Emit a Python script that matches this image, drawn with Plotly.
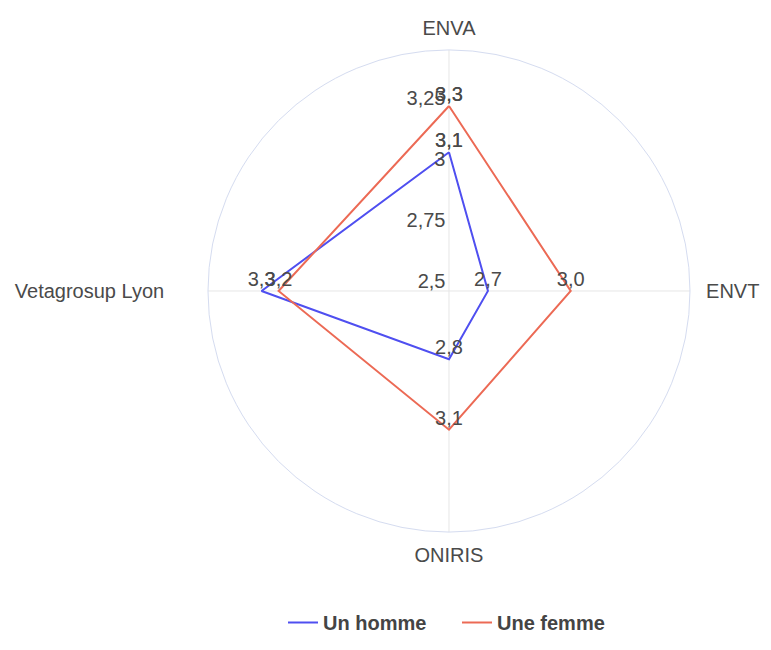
import plotly.graph_objects as go

categories = ["ENVA", "ENVT", "ONIRIS", "Vetagrosup Lyon"]
category_labels = ["ENVA", "\u00a0ENVT", "ONIRIS", "Vetagrosup Lyon\u00a0\u00a0\u00a0\u00a0\u00a0\u00a0"]
homme = [3.07, 2.66, 2.78, 3.27]
femme = [3.26, 3.0, 3.07, 3.2]
radial_ticks = [2.5, 2.75, 3, 3.25]
radial_labels = ["2,5", "2,75", "3", "3,25"]

fig = go.Figure()

for name, values, color in [("Un homme", homme, "#4f4ff0"), ("Une femme", femme, "#ec6a55")]:
    fig.add_trace(go.Scatterpolar(
        r=values + values[:1],
        theta=categories + categories[:1],
        name=name,
        mode="lines+text",
        texttemplate="%{r:.1f}",
        textposition="top center",
        textfont=dict(size=20, color="#4a4a4a"),
        line=dict(color=color, width=2),
    ))

# page body has an 8px margin, so the figure is smaller than the window
fig.update_layout(
    width=755,
    height=634,
    separators=", ",
    font=dict(family="Arial", color="#444"),
    paper_bgcolor="white",
    margin=dict(l=0, r=0, t=0, b=0, autoexpand=False),
    polar=dict(
        domain=dict(x=[0.2649, 0.9033], y=[0.1735, 0.9338]),
        bgcolor="white",
        angularaxis=dict(
            rotation=90,
            direction="clockwise",
            tickmode="array",
            tickvals=categories,
            ticktext=category_labels,
            gridcolor="#e6e6e6",
            linecolor="#d5dcf0",
            showline=True,
            ticks="outside",
            ticklen=6,
            tickcolor="rgba(0,0,0,0)",
            tickfont=dict(size=20, color="#4a4a4a"),
        ),
        radialaxis=dict(
            range=[2.5, 3.49],
            tickmode="array",
            # labels sit slightly above their tick in the original
            tickvals=[t + 0.04 for t in radial_ticks],
            ticktext=radial_labels,
            angle=90,
            tickangle=90,
            side="counterclockwise",
            showgrid=False,
            showline=False,
            ticks="",
            tickfont=dict(size=20, color="#4a4a4a"),
        ),
    ),
    legend=dict(
        orientation="h",
        x=0.5947,
        xanchor="center",
        y=0,
        yanchor="bottom",
        entrywidth=129,
        font=dict(size=20, color="#444", family="Arial", weight="bold"),
    ),
)

fig.write_html("out.html")
